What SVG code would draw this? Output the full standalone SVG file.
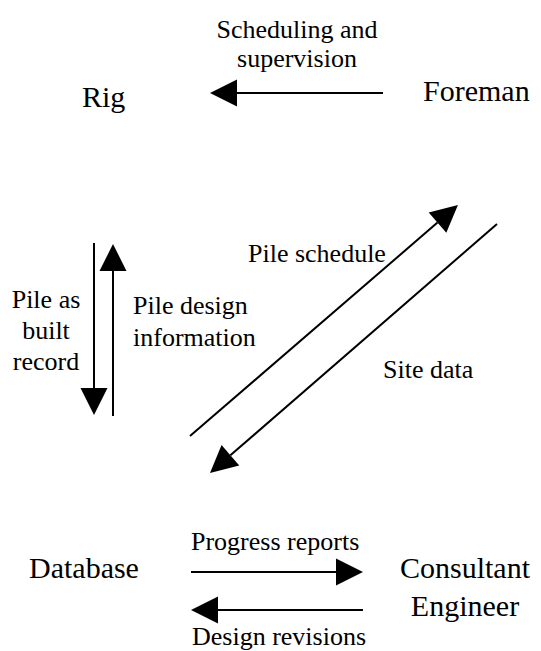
<svg xmlns="http://www.w3.org/2000/svg" width="541" height="651" viewBox="0 0 541 651" font-family="Liberation Serif, Times New Roman, serif">
  <style>
    .node { font-size: 30px; fill: #000; }
    .label { font-size: 26px; fill: #000; }
    .flow { stroke: #000; stroke-width: 2; fill: none; }
  </style>
  <defs>
    <!-- solid triangular head, drawn forward from the end of the shaft -->
    <marker id="head" markerUnits="userSpaceOnUse" markerWidth="28" markerHeight="28" refX="0" refY="13.5" orient="auto" overflow="visible">
      <path d="M0,0 L27,13.5 L0,27 Z" fill="#000"/>
    </marker>
  </defs>
  <rect width="541" height="651" fill="#fff"/>

  <g id="rig"><text class="node" x="82" y="107">Rig</text></g>
  <g id="foreman"><text class="node" x="423" y="101">Foreman</text></g>
  <g id="database"><text class="node" x="29" y="578">Database</text></g>
  <g id="consultant-engineer">
    <text class="node" x="465" y="578" text-anchor="middle">Consultant</text>
    <text class="node" x="465" y="616" text-anchor="middle">Engineer</text>
  </g>

  <g id="connectors">
    <!-- Foreman to Rig -->
    <line class="flow" x1="383" y1="93" x2="237" y2="93" marker-end="url(#head)"/>
    <text class="label" x="297" y="38" text-anchor="middle">Scheduling and</text>
    <text class="label" x="297" y="67" text-anchor="middle">supervision</text>

    <!-- Rig down to Database -->
    <line class="flow" x1="94" y1="243" x2="94" y2="388" marker-end="url(#head)"/>
    <text class="label" x="46" y="308" text-anchor="middle">Pile as</text>
    <text class="label" x="46" y="339" text-anchor="middle">built</text>
    <text class="label" x="46" y="370" text-anchor="middle">record</text>

    <!-- Database up to Rig -->
    <line class="flow" x1="113" y1="416" x2="113" y2="271" marker-end="url(#head)"/>
    <text class="label" x="133" y="314">Pile design</text>
    <text class="label" x="133" y="346">information</text>

    <!-- Database to Foreman -->
    <line class="flow" x1="190" y1="436" x2="437.5" y2="222.6" marker-end="url(#head)"/>
    <text class="label" x="248" y="262">Pile schedule</text>

    <!-- Foreman to Database -->
    <line class="flow" x1="497" y1="224" x2="230.4" y2="455.3" marker-end="url(#head)"/>
    <text class="label" x="383" y="378">Site data</text>

    <!-- Database to Consultant Engineer -->
    <line class="flow" x1="191" y1="572" x2="336" y2="572" marker-end="url(#head)"/>
    <text class="label" x="191" y="550">Progress reports</text>

    <!-- Consultant Engineer to Database -->
    <line class="flow" x1="363" y1="610" x2="218" y2="610" marker-end="url(#head)"/>
    <text class="label" x="192" y="645">Design revisions</text>
  </g>
</svg>
